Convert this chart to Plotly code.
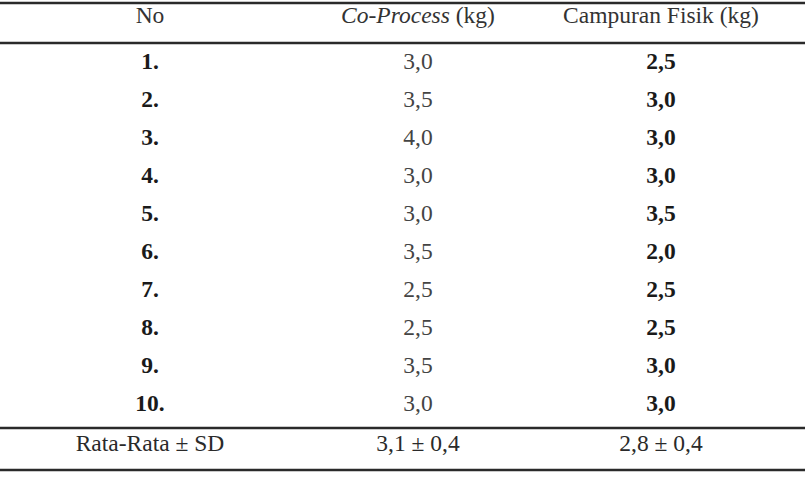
import plotly.graph_objects as go

headers = ["No", "<i>Co-Process</i> (kg)", "Campuran Fisik (kg)"]
nos = ["1.", "2.", "3.", "4.", "5.", "6.", "7.", "8.", "9.", "10."]
co_process = ["3,0", "3,5", "4,0", "3,0", "3,0", "3,5", "2,5", "2,5", "3,5", "3,0"]
campuran = ["2,5", "3,0", "3,0", "3,0", "3,5", "2,0", "2,5", "2,5", "3,0", "3,0"]
footer = ["Rata-Rata ± SD", "3,1 ± 0,4", "2,8 ± 0,4"]

W, H = 808, 478
col_x = [150, 418, 661]
header_y = 17
row_y0, row_dy = 63, 38
footer_y = 445
FONT = "Times New Roman, Liberation Serif, serif"
FS = 23.5
TXT = "#1a1a1a"

fig = go.Figure()

common = dict(mode="text", hoverinfo="skip", showlegend=False, cliponaxis=False)

# header
fig.add_trace(go.Scatter(x=col_x, y=[header_y] * 3, text=headers,
                         textfont=dict(family=FONT, size=FS, color="#333333"),
                         **common))

rows_y = [row_y0 + row_dy * i for i in range(len(nos))]
# No column (bold)
fig.add_trace(go.Scatter(x=[col_x[0]] * len(nos), y=rows_y,
                         text=[f"<b>{v}</b>" for v in nos],
                         textfont=dict(family=FONT, size=FS, color=TXT),
                         **common))
# Co-Process (regular)
fig.add_trace(go.Scatter(x=[col_x[1]] * len(co_process), y=rows_y,
                         text=co_process,
                         textfont=dict(family=FONT, size=FS, color="#444444"),
                         **common))
# Campuran Fisik (bold)
fig.add_trace(go.Scatter(x=[col_x[2]] * len(campuran), y=rows_y,
                         text=[f"<b>{v}</b>" for v in campuran],
                         textfont=dict(family=FONT, size=FS, color=TXT),
                         **common))
# footer
fig.add_trace(go.Scatter(x=col_x, y=[footer_y] * 3, text=footer,
                         textfont=dict(family=FONT, size=FS, color="#2a2a2a"),
                         **common))

for ly in [3, 43, 428, 470]:
    fig.add_shape(type="line", x0=0, x1=805, y0=ly, y1=ly, xref="x", yref="y",
                  line=dict(color="#2a2a2a", width=2.5))

fig.update_layout(
    width=W, height=H,
    margin=dict(l=0, r=0, t=0, b=0),
    paper_bgcolor="white", plot_bgcolor="white",
    hovermode=False,
    xaxis=dict(range=[0, W], visible=False, fixedrange=True),
    yaxis=dict(range=[H, 0], visible=False, fixedrange=True),
)

fig.write_html("out.html", config={"displayModeBar": False},
               post_script="document.body.style.margin='0px';")
